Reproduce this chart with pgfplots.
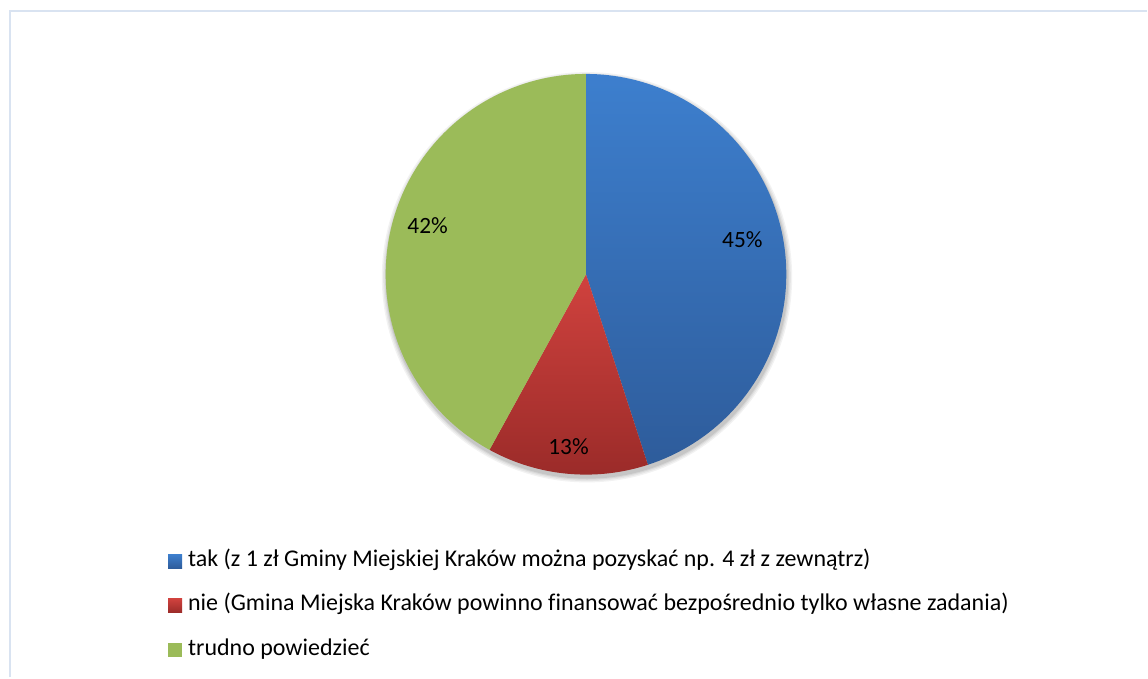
\documentclass[border=0pt]{standalone}
\usepackage{pgfplots}
\usepackage{pgfplotstable}
\pgfplotsset{compat=1.18}
\usepackage{fontspec}
\setmainfont{Carlito}[Ligatures={NoCommon}]

\definecolor{blueT}{RGB}{61,127,206}
\definecolor{blueB}{RGB}{46,92,155}
\definecolor{redT}{RGB}{208,66,62}
\definecolor{redB}{RGB}{155,43,41}
\definecolor{greenF}{RGB}{155,187,89}
\definecolor{frameC}{RGB}{217,227,241}

\pgfplotstableread{
name value
tak 45
nie 13
trudno 42
}\piedata
\pgfplotstablegetelem{0}{value}\of\piedata \let\vA\pgfplotsretval
\pgfplotstablegetelem{1}{value}\of\piedata \let\vB\pgfplotsretval
\pgfplotstablegetelem{2}{value}\of\piedata \let\vC\pgfplotsretval
\pgfmathsetmacro\aA{90}
\pgfmathsetmacro\aB{90-3.6*\vA}
\pgfmathsetmacro\aC{\aB-3.6*\vB}
\pgfmathsetmacro\aD{\aC-3.6*\vC}
\def\cx{586.5}
\def\cy{274.5}
\def\rr{200.5}

\begin{document}
\begin{tikzpicture}
\begin{axis}[
  width=861pt, height=508.5pt, scale only axis,
  xmin=0, xmax=1148, ymin=0, ymax=678, y dir=reverse,
  hide axis, clip=false,
  legend image code/.code={\path[#1, draw=none] (0pt,-5.6pt) rectangle (10.5pt,4.9pt);},
  legend cell align=left,
  legend style={draw=none, fill=none, at={(axis cs:168,550)}, anchor=north west,
    font=\fontsize{18}{21}\selectfont, inner sep=0pt,
    row sep=16.8pt,
    nodes={text height=12.5pt, text depth=4pt, inner sep=0pt, outer sep=0pt},
    /tikz/every even column/.append style={column sep=0pt},
    /tikz/every odd column/.append style={column sep=4.5pt}},
]
\path[fill=white] (axis cs:0,0) rectangle (axis cs:1148,678);
\draw[frameC, line width=1.5pt] (axis cs:10.5,678) |- (axis cs:1148,11.5);
% soft shadow
\fill[black, opacity=0.05] (axis cs:587.5,277.5) circle[radius=154pt];
\fill[black, opacity=0.05] (axis cs:587.5,277.5) circle[radius=153pt];
\fill[black, opacity=0.06] (axis cs:587.5,277.5) circle[radius=152pt];
\fill[black, opacity=0.08] (axis cs:587.5,277.5) circle[radius=151.2pt];
\addplot[draw=none, top color=blueT, bottom color=blueB, variable=\t, samples at={-1,0,1,...,100}]
  ({\t<0 ? \cx : \cx+\rr*cos(\aA+(\aB-\aA)*\t/100)},
   {\t<0 ? \cy : \cy-\rr*sin(\aA+(\aB-\aA)*\t/100)});
\addlegendentry{tak (z 1 zł Gminy Miejskiej Kraków można pozyskać np. 4 zł z zewnątrz)}
\addplot[draw=none, top color=redT, bottom color=redB, variable=\t, samples at={-1,0,1,...,100}]
  ({\t<0 ? \cx : \cx+\rr*cos(\aB+(\aC-\aB)*\t/100)},
   {\t<0 ? \cy : \cy-\rr*sin(\aB+(\aC-\aB)*\t/100)});
\addlegendentry{nie (Gmina Miejska Kraków powinno finansować bezpośrednio tylko własne zadania)}
\addplot[draw=none, fill=greenF, variable=\t, samples at={-1,0,1,...,100}]
  ({\t<0 ? \cx : \cx+\rr*cos(\aC+(\aD-\aC)*\t/100)},
   {\t<0 ? \cy : \cy-\rr*sin(\aC+(\aD-\aC)*\t/100)});
\addlegendentry{trudno powiedzieć}
\node[font=\fontsize{17.5}{21}\selectfont] at (axis cs:743,240) {45\%};
\node[font=\fontsize{17.5}{21}\selectfont] at (axis cs:569,447) {13\%};
\node[font=\fontsize{17.5}{21}\selectfont] at (axis cs:428,226) {42\%};
\end{axis}
\end{tikzpicture}
\end{document}
